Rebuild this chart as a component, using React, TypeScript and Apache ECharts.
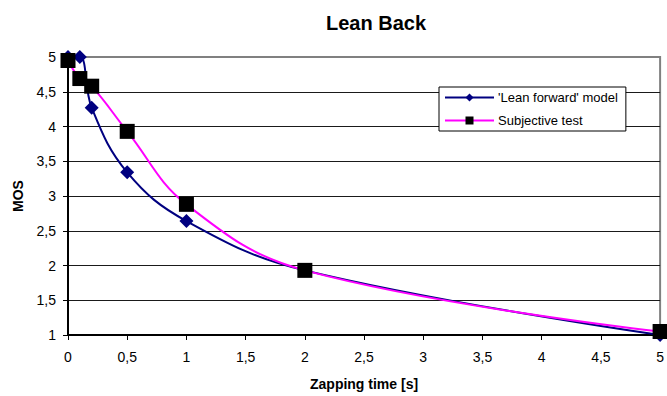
import React, { useEffect, useRef } from "react";
import * as echarts from "echarts";

const zappingTimes = [0, 0.1, 0.2, 0.5, 1, 2, 5];
const modelValues = [5.0, 5.0, 4.27, 3.34, 2.64, 1.93, 1.0];
const subjectiveValues = [4.95, 4.69, 4.58, 3.93, 2.88, 1.93, 1.05];
const seriesNames = ["'Lean forward' model", "Subjective test"];

const fmt = (v: number) => String(v).replace(".", ",");

export default function App() {
  const ref = useRef<HTMLDivElement>(null);
  useEffect(() => {
    if (!ref.current) return;
    const chart = echarts.init(ref.current, undefined, { renderer: "svg" });
    const font = "Liberation Sans";
    chart.setOption({
      animation: false,
      backgroundColor: "#fff",
      textStyle: { fontFamily: font },
      title: {
        text: "Lean Back",
        left: 321,
        top: 8,
        textStyle: { fontFamily: font, fontSize: 20, fontWeight: "bold", color: "#000" },
      },
      legend: {
        orient: "vertical",
        left: 439,
        top: 87,
        padding: [4, 8, 4, 5],
        itemWidth: 49,
        itemHeight: 10,
        itemGap: 10,
        borderColor: "#000",
        borderWidth: 1,
        backgroundColor: "#fff",
        textStyle: { fontFamily: font, fontSize: 13, color: "#000", padding: [0, 0, 0, -1] },
        data: seriesNames,
      },
      grid: {
        left: 68,
        right: 5,
        top: 57,
        bottom: 57,
        show: true,
        borderColor: "#808080",
        borderWidth: 2,
        containLabel: false,
      },
      xAxis: {
        type: "value",
        min: 0,
        max: 5,
        interval: 0.5,
        name: "Zapping time [s]",
        nameLocation: "middle",
        nameGap: 42,
        nameTextStyle: { fontFamily: font, fontSize: 14, fontWeight: "bold", color: "#000" },
        axisLine: { show: true, lineStyle: { color: "#000", width: 2 } },
        axisTick: { show: true, length: 5, lineStyle: { color: "#000", width: 1 } },
        axisLabel: { formatter: fmt, fontFamily: font, fontSize: 14, color: "#000", margin: 15 },
        splitLine: { show: false },
      },
      yAxis: {
        type: "value",
        min: 1,
        max: 5,
        interval: 0.5,
        name: "MOS",
        nameLocation: "middle",
        nameGap: 43,
        nameRotate: 90,
        nameTextStyle: { fontFamily: font, fontSize: 14, fontWeight: "bold", color: "#000" },
        axisLine: { show: true, lineStyle: { color: "#000", width: 2 } },
        axisTick: { show: true, length: 5, lineStyle: { color: "#000", width: 1 } },
        axisLabel: { formatter: fmt, fontFamily: font, fontSize: 14, color: "#000", margin: 12 },
        splitLine: {
          show: true,
          showMaxLine: false,
          lineStyle: { color: "#1a1a1a", width: 1 },
        },
      },
      series: [
        {
          name: seriesNames[0],
          type: "line",
          smooth: 0.4,
          data: zappingTimes.map((x, i) => [x, modelValues[i]]),
          symbol: "diamond",
          symbolSize: 14,
          clip: false,
          lineStyle: { color: "#000080", width: 2 },
          itemStyle: { color: "#000080" },
          z: 3,
        },
        {
          name: seriesNames[1],
          type: "line",
          smooth: 0.4,
          data: zappingTimes.map((x, i) => [x, subjectiveValues[i]]),
          symbol: "rect",
          symbolSize: 15,
          clip: false,
          lineStyle: { color: "#ff00ff", width: 2 },
          itemStyle: { color: "#000" },
          z: 4,
        },
      ],
    });
    return () => chart.dispose();
  }, []);
  return (
    <div
      ref={ref}
      style={{ position: "fixed", left: 0, top: 0, width: 667, height: 396 }}
    />
  );
}
